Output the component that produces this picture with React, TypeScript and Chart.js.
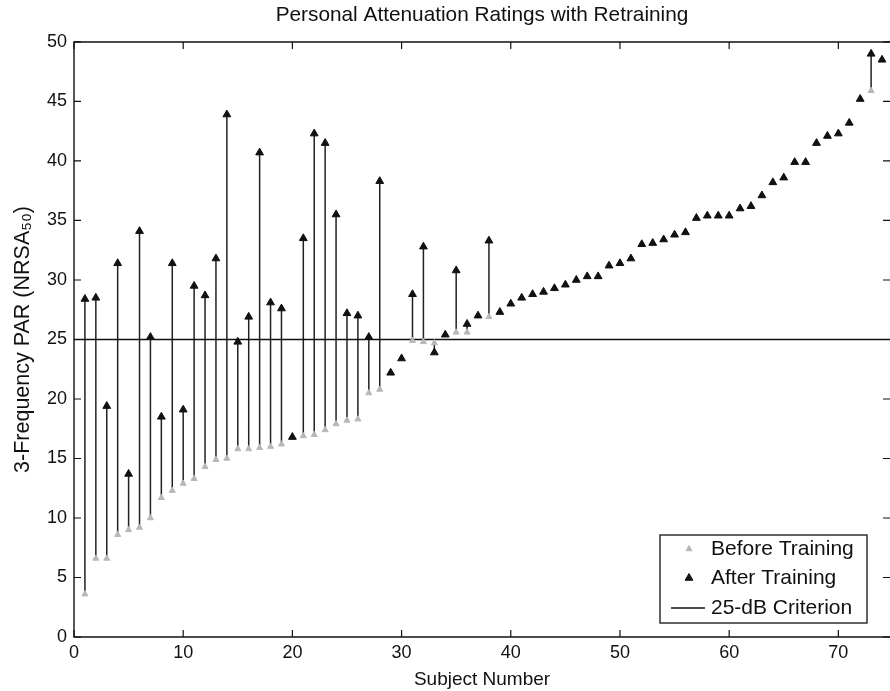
import { useEffect, useRef } from 'react';
import { Chart, registerables } from 'chart.js';
import { drawPoint } from 'chart.js/helpers';

Chart.register(...registerables);

const TITLE = 'Personal Attenuation Ratings with Retraining';
const X_LABEL = 'Subject Number';
const Y_LABEL = '3-Frequency PAR (NRSA₅₀)';
const LEGEND_LABELS = ['Before Training', 'After Training', '25-dB Criterion'];

const SUBJECTS = [
  1, 2, 3, 4, 5, 6, 7, 8, 9, 10, 11, 12, 13, 14, 15, 16, 17, 18, 19, 20,
  21, 22, 23, 24, 25, 26, 27, 28, 29, 30, 31, 32, 33, 34, 35, 36, 37, 38, 39, 40,
  41, 42, 43, 44, 45, 46, 47, 48, 49, 50, 51, 52, 53, 54, 55, 56, 57, 58, 59, 60,
  61, 62, 63, 64, 65, 66, 67, 68, 69, 70, 71, 72, 73, 74,
];

const BEFORE = [
  3.6, 6.6, 6.6, 8.6, 9.0, 9.2, 10.0, 11.7, 12.3, 12.9,
  13.3, 14.3, 14.9, 15.0, 15.8, 15.8, 15.9, 16.0, 16.2, 16.8,
  16.9, 17.0, 17.4, 17.9, 18.2, 18.3, 20.5, 20.8, 22.2, 23.4,
  24.9, 24.8, 24.7, 25.4, 25.6, 25.6, 27.0, 26.9, 27.3, 28.0,
  28.5, 28.8, 29.0, 29.3, 29.6, 30.0, 30.3, 30.3, 31.2, 31.4,
  31.8, 33.0, 33.1, 33.4, 33.8, 34.0, 35.2, 35.4, 35.4, 35.4,
  36.0, 36.2, 37.1, 38.2, 38.6, 39.9, 39.9, 41.5, 42.1, 42.3,
  43.2, 45.2, 45.9, 48.5,
];

const AFTER = [
  28.4, 28.5, 19.4, 31.4, 13.7, 34.1, 25.2, 18.5, 31.4, 19.1,
  29.5, 28.7, 31.8, 43.9, 24.8, 26.9, 40.7, 28.1, 27.6, 16.8,
  33.5, 42.3, 41.5, 35.5, 27.2, 27.0, 25.2, 38.3, 22.2, 23.4,
  28.8, 32.8, 23.9, 25.4, 30.8, 26.3, 27.0, 33.3, 27.3, 28.0,
  28.5, 28.8, 29.0, 29.3, 29.6, 30.0, 30.3, 30.3, 31.2, 31.4,
  31.8, 33.0, 33.1, 33.4, 33.8, 34.0, 35.2, 35.4, 35.4, 35.4,
  36.0, 36.2, 37.1, 38.2, 38.6, 39.9, 39.9, 41.5, 42.1, 42.3,
  43.2, 45.2, 49.0, 48.5,
];

const CRITERION = 25;
const X_MIN = 0;
const X_MAX = 74.73;
const Y_MIN = 0;
const Y_MAX = 50;
const X_TICKS = [0, 10, 20, 30, 40, 50, 60, 70];
const Y_TICKS = [0, 5, 10, 15, 20, 25, 30, 35, 40, 45, 50];

const FONT = "'Liberation Sans', Arial, Helvetica, sans-serif";
const BEFORE_COLOR = '#b8b8b8';
const AFTER_COLOR = '#111111';

function drawTri(ctx: CanvasRenderingContext2D, x: number, y: number, r: number, color: string) {
  ctx.save();
  ctx.fillStyle = color;
  ctx.strokeStyle = color;
  ctx.lineWidth = 1;
  drawPoint(ctx, { pointStyle: 'triangle', radius: r, borderWidth: 1, rotation: 0 } as any, x, y);
  ctx.restore();
}

const frameAndLegend = {
  id: 'frameAndLegend',
  afterDraw(chart: any) {
    const { ctx, chartArea, scales } = chart;
    const { left, right, top, bottom } = chartArea;
    ctx.save();
    ctx.strokeStyle = '#111';
    ctx.lineWidth = 1.4;
    ctx.beginPath();
    ctx.moveTo(right + 2, top);
    ctx.lineTo(left, top);
    ctx.lineTo(left, bottom);
    ctx.lineTo(right + 2, bottom);
    ctx.stroke();
    const tl = 7;
    ctx.lineWidth = 1.2;
    ctx.beginPath();
    X_TICKS.forEach((v) => {
      const px = scales.x.getPixelForValue(v);
      ctx.moveTo(px, bottom);
      ctx.lineTo(px, bottom - tl);
      ctx.moveTo(px, top);
      ctx.lineTo(px, top + tl);
    });
    Y_TICKS.forEach((v) => {
      const py = scales.y.getPixelForValue(v);
      ctx.moveTo(left, py);
      ctx.lineTo(left + tl, py);
      ctx.moveTo(right, py);
      ctx.lineTo(right - tl, py);
    });
    ctx.stroke();

    // legend box
    const bx = 660, by = 535, bw = 207, bh = 88;
    ctx.fillStyle = '#fff';
    ctx.fillRect(bx, by, bw, bh);
    ctx.strokeStyle = '#222';
    ctx.lineWidth = 1.4;
    ctx.strokeRect(bx, by, bw, bh);
    const rows = [549, 578, 608];
    const mx = 689;
    drawTri(ctx, mx, rows[0], 3.5, BEFORE_COLOR);
    drawTri(ctx, mx, rows[1], 4.5, AFTER_COLOR);
    ctx.strokeStyle = '#111';
    ctx.lineWidth = 1.4;
    ctx.beginPath();
    ctx.moveTo(671, rows[2]);
    ctx.lineTo(705, rows[2]);
    ctx.stroke();
    ctx.fillStyle = '#111';
    ctx.font = `21px ${FONT}`;
    ctx.textBaseline = 'middle';
    ctx.textAlign = 'left';
    LEGEND_LABELS.forEach((t, i) => ctx.fillText(t, 711, rows[i]));
    ctx.restore();
  },
};

export default function App() {
  const ref = useRef<HTMLCanvasElement | null>(null);

  useEffect(() => {
    document.body.style.margin = '0';
    const canvas = ref.current;
    if (!canvas) return;

    const stemData: any[] = [];
    SUBJECTS.forEach((s, i) => {
      stemData.push({ x: s, y: BEFORE[i] });
      stemData.push({ x: s, y: AFTER[i] });
      stemData.push({ x: s, y: null });
    });

    const chart = new Chart(canvas, {
      type: 'scatter',
      data: {
        datasets: [
          {
            label: LEGEND_LABELS[1],
            data: SUBJECTS.map((s, i) => ({ x: s, y: AFTER[i] })),
            pointStyle: 'triangle',
            pointRadius: 4.5,
            pointBackgroundColor: AFTER_COLOR,
            pointBorderColor: AFTER_COLOR,
            pointBorderWidth: 1,
            showLine: false,
            clip: false,
          },
          {
            label: LEGEND_LABELS[0],
            data: SUBJECTS.map((s, i) => ({ x: s, y: BEFORE[i] })),
            pointStyle: 'triangle',
            pointRadius: 3.5,
            pointBackgroundColor: BEFORE_COLOR,
            pointBorderColor: BEFORE_COLOR,
            pointBorderWidth: 1,
            showLine: false,
            clip: false,
          },
          {
            label: LEGEND_LABELS[2],
            data: [
              { x: X_MIN, y: CRITERION },
              { x: X_MAX, y: CRITERION },
            ],
            showLine: true,
            pointRadius: 0,
            borderColor: '#111',
            borderWidth: 1.5,
          },
          {
            label: 'stems',
            data: stemData,
            showLine: true,
            spanGaps: false,
            pointRadius: 0,
            borderColor: '#222',
            borderWidth: 1.5,
          },
        ],
      },
      options: {
        responsive: false,
        animation: false,
        layout: { padding: 0, autoPadding: false },
        plugins: {
          legend: { display: false },
          tooltip: { enabled: false },
          title: {
            display: true,
            text: TITLE,
            fullSize: false,
            color: '#111',
            font: { family: FONT, size: 20.8, weight: 'normal' },
            padding: { top: 3, bottom: 14 },
          },
        },
        scales: {
          x: {
            type: 'linear',
            min: X_MIN,
            max: X_MAX,
            grid: { display: false, drawTicks: false },
            border: { display: false },
            afterBuildTicks: (scale: any) => {
              scale.ticks = X_TICKS.map((v) => ({ value: v }));
            },
            afterFit: (scale: any) => {
              scale.height = 54;
              scale.paddingLeft = 0;
              scale.paddingRight = 0;
            },
            ticks: {
              autoSkip: false,
              maxRotation: 0,
              padding: 5,
              color: '#111',
              font: { family: FONT, size: 18 },
            },
            title: {
              display: true,
              text: X_LABEL,
              color: '#111',
              font: { family: FONT, size: 19 },
              padding: { top: 0, bottom: 0 },
            },
          },
          y: {
            type: 'linear',
            min: Y_MIN,
            max: Y_MAX,
            grid: { display: false, drawTicks: false },
            border: { display: false },
            afterBuildTicks: (scale: any) => {
              scale.ticks = Y_TICKS.map((v) => ({ value: v }));
            },
            afterFit: (scale: any) => {
              scale.width = 74;
              scale.paddingTop = 0;
              scale.paddingBottom = 0;
            },
            ticks: {
              autoSkip: false,
              padding: 7,
              color: '#111',
              font: { family: FONT, size: 18 },
            },
            title: {
              display: true,
              text: Y_LABEL,
              color: '#111',
              font: { family: FONT, size: 21.5 },
              padding: { top: 10, bottom: 0 },
            },
          },
        },
      },
      plugins: [frameAndLegend],
    } as any);

    return () => chart.destroy();
  }, []);

  return <canvas ref={ref} width={890} height={691} style={{ display: 'block' }} />;
}
